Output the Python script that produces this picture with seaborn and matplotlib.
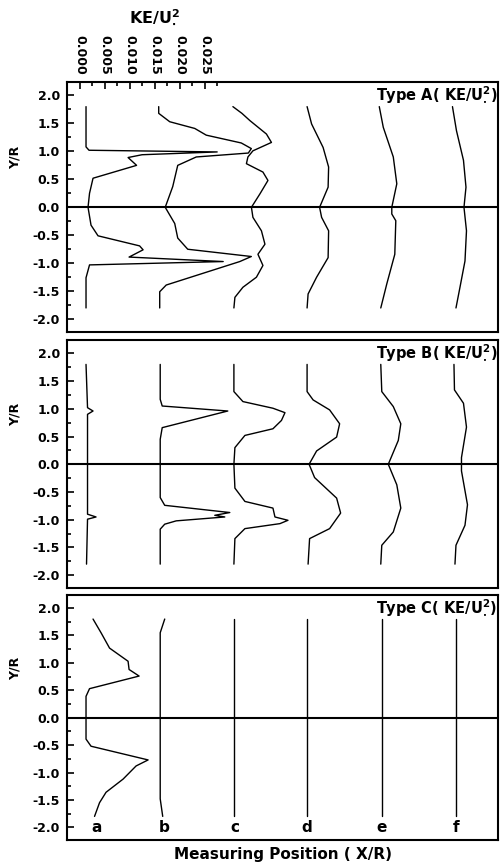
"""
Turbulent kinetic energy profiles KE/U*^2 at six measuring positions, three flow types
"""

import matplotlib
matplotlib.use('Agg')
import matplotlib.pyplot as plt
from matplotlib.ticker import MultipleLocator
import seaborn as sns
import numpy as np

positions = ['a', 'b', 'c', 'd', 'e', 'f']
ke_ticks = [0.000, 0.005, 0.010, 0.015, 0.020, 0.025]
ke_labels = ['0.000', '0.005', '0.010', '0.015', '0.020', '0.025']
yr_ticks = [2.0, 1.5, 1.0, 0.5, 0.0, -0.5, -1.0, -1.5, -2.0]

# Type A : (Y/R, KE/U*^2) per position
typeA = {
    'a': ([1.80, 1.08, 1.02, 0.99, 0.94, 0.89, 0.75, 0.52, 0.25, 0.00, -0.32, -0.51, -0.69, -0.76, -0.89, -0.97, -1.03, -1.26, -1.80],
          [0.0013, 0.0013, 0.0019, 0.0275, 0.0125, 0.0097, 0.0114, 0.0027, 0.0020, 0.0017, 0.0023, 0.0037, 0.0120, 0.0127, 0.0099, 0.0287, 0.0020, 0.0013, 0.0013]),
    'b': ([1.80, 1.68, 1.53, 1.41, 1.29, 1.15, 1.05, 0.97, 0.90, 0.75, 0.37, 0.00, -0.29, -0.55, -0.75, -0.88, -0.97, -1.39, -1.51, -1.80],
          [0.0011, 0.0011, 0.0033, 0.0083, 0.0106, 0.0176, 0.0196, 0.0190, 0.0086, 0.0049, 0.0039, 0.0024, 0.0043, 0.0049, 0.0069, 0.0196, 0.0173, 0.0026, 0.0013, 0.0013]),
    'c': ([1.80, 1.68, 1.55, 1.31, 1.16, 1.01, 0.90, 0.78, 0.63, 0.48, 0.24, 0.00, -0.18, -0.42, -0.66, -0.84, -1.04, -1.25, -1.43, -1.61, -1.80],
          [0.0012, 0.0030, 0.0046, 0.0079, 0.0089, 0.0052, 0.0042, 0.0039, 0.0072, 0.0082, 0.0066, 0.0049, 0.0052, 0.0069, 0.0076, 0.0062, 0.0072, 0.0059, 0.0032, 0.0016, 0.0014]),
    'd': ([1.80, 1.49, 1.07, 0.72, 0.36, 0.00, -0.18, -0.42, -0.90, -1.25, -1.55, -1.80],
          [0.0013, 0.0022, 0.0045, 0.0056, 0.0055, 0.0038, 0.0042, 0.0056, 0.0055, 0.0032, 0.0015, 0.0013]),
    'e': ([1.80, 1.43, 0.90, 0.42, 0.00, -0.12, -0.24, -0.84, -1.37, -1.80],
          [0.0010, 0.0018, 0.0038, 0.0045, 0.0035, 0.0035, 0.0043, 0.0041, 0.0025, 0.0013]),
    'f': ([1.80, 1.37, 0.84, 0.36, 0.00, -0.42, -0.96, -1.43, -1.80],
          [0.0009, 0.0017, 0.0031, 0.0036, 0.0032, 0.0037, 0.0034, 0.0024, 0.0016]),
}

# Type B
typeB = {
    'a': ([1.80, 1.02, 0.96, 0.90, 0.00, -0.90, -0.95, -0.99, -1.80],
          [0.0013, 0.0016, 0.0027, 0.0016, 0.0016, 0.0016, 0.0033, 0.0016, 0.0014]),
    'b': ([1.80, 1.17, 1.05, 0.96, 0.66, 0.45, 0.00, -0.60, -0.74, -0.87, -0.92, -0.95, -1.02, -1.08, -1.17, -1.80],
          [0.0014, 0.0014, 0.0018, 0.0149, 0.0018, 0.0014, 0.0014, 0.0014, 0.0023, 0.0153, 0.0123, 0.0143, 0.0046, 0.0023, 0.0014, 0.0014]),
    'c': ([1.80, 1.31, 1.13, 1.01, 0.93, 0.79, 0.64, 0.52, 0.30, 0.00, -0.43, -0.67, -0.79, -0.95, -1.01, -1.07, -1.16, -1.34, -1.80],
          [0.0014, 0.0014, 0.0032, 0.0092, 0.0116, 0.0109, 0.0092, 0.0036, 0.0016, 0.0014, 0.0016, 0.0036, 0.0092, 0.0096, 0.0122, 0.0106, 0.0036, 0.0016, 0.0014]),
    'd': ([1.80, 1.31, 1.16, 0.98, 0.73, 0.49, 0.24, 0.00, -0.24, -0.61, -0.88, -1.16, -1.34, -1.80],
          [0.0013, 0.0013, 0.0025, 0.0058, 0.0078, 0.0072, 0.0032, 0.0017, 0.0028, 0.0072, 0.0080, 0.0058, 0.0018, 0.0015]),
    'e': ([1.80, 1.31, 1.04, 0.73, 0.43, 0.00, -0.37, -0.79, -1.22, -1.46, -1.80],
          [0.0013, 0.0015, 0.0038, 0.0053, 0.0048, 0.0028, 0.0045, 0.0053, 0.0038, 0.0015, 0.0013]),
    'f': ([1.80, 1.34, 1.10, 0.67, 0.12, -0.12, -0.73, -1.10, -1.46, -1.80],
          [0.0012, 0.0013, 0.0031, 0.0037, 0.0027, 0.0027, 0.0039, 0.0034, 0.0016, 0.0014]),
}

# Type C
typeC = {
    'a': ([1.80, 1.55, 1.27, 1.03, 0.88, 0.76, 0.53, 0.39, 0.00, -0.39, -0.52, -0.77, -0.88, -1.12, -1.36, -1.55, -1.80],
          [0.0027, 0.0043, 0.0060, 0.0097, 0.0099, 0.0119, 0.0020, 0.0013, 0.0013, 0.0013, 0.0023, 0.0137, 0.0113, 0.0087, 0.0053, 0.0040, 0.0030]),
    'b': ([1.80, 1.55, 0.00, -1.48, -1.80],
          [0.0023, 0.0014, 0.0014, 0.0014, 0.0019]),
    'c': ([1.80, -1.80], [0.0014, 0.0014]),
    'd': ([1.80, -1.80], [0.0013, 0.0013]),
    'e': ([1.80, -1.80], [0.0015, 0.0015]),
    'f': ([1.80, -1.80], [0.0016, 0.0016]),
}

panels = [('Type A', typeA), ('Type B', typeB), ('Type C', typeC)]

spacing = 0.01472          # KE offset between measuring positions
letter_shift = [0.0034, 0.0021, 0.0016, 0.0012, 0.0015, 0.0016]

sns.set_style('ticks')
plt.rcParams['font.family'] = ['DejaVu Sans']
plt.rcParams['font.weight'] = 'bold'
plt.rcParams['axes.labelweight'] = 'bold'
plt.rcParams['mathtext.fontset'] = 'dejavusans'
plt.rcParams['mathtext.default'] = 'bf'
plt.rcParams['axes.unicode_minus'] = False
for key in ['text.color', 'axes.labelcolor', 'xtick.color', 'ytick.color', 'axes.edgecolor']:
    plt.rcParams[key] = 'black'

fig = plt.figure(figsize=(5.03, 8.68), dpi=100)
rects = [[0.1332, 0.6175, 0.8569, 0.2880],
         [0.1332, 0.3226, 0.8569, 0.2857],
         [0.1332, 0.0323, 0.8569, 0.2823]]

for k, (name, prof) in enumerate(panels):
    ax = fig.add_axes(rects[k])
    ax.axhline(0, color='k', lw=1.5)
    for i, p in enumerate(positions):
        yy, ke = prof[p]
        sns.lineplot(x=np.array(ke) + i * spacing, y=yy, sort=False, estimator=None,
                     color='k', lw=1, ax=ax)
    ax.set_xlim(-0.0025, 0.0836)
    ax.set_ylim(-2.23, 2.24)
    for s in ax.spines.values():
        s.set_visible(True)
        s.set_linewidth(1.5)
        s.set_color('k')

    ax.set_yticks(yr_ticks)
    ax.set_yticklabels([f'{v:.1f}' for v in yr_ticks])
    ax.yaxis.set_minor_locator(MultipleLocator(0.25))
    ax.tick_params(axis='y', which='both', direction='in', labelsize=9, width=1.2, pad=5)
    ax.tick_params(axis='y', which='major', length=5)
    ax.tick_params(axis='y', which='minor', length=3)
    ax.set_ylabel('Y/R', fontsize=9)
    ax.yaxis.set_label_coords(-0.105, 0.70)

    if k == 0:
        ax.xaxis.tick_top()
        ax.set_xticks(ke_ticks)
        ax.set_xticklabels(ke_labels, rotation=-90)
        ax.set_xticks(np.arange(0.0025, 0.0300, 0.005), minor=True)
        ax.tick_params(axis='x', which='both', direction='in', labelsize=9, width=1.2, pad=5)
        ax.tick_params(axis='x', which='major', length=5)
        ax.tick_params(axis='x', which='minor', length=3)
    else:
        ax.set_xticks([])
    ax.set_xlabel('')

    ax.text(0.999, 0.99, name + r'( KE/$U_{\bullet}^{2}$)', transform=ax.transAxes,
            ha='right', va='top', fontsize=10.5)

    if k == 2:
        for i, p in enumerate(positions):
            ax.text(i * spacing + letter_shift[i], -2.09, p, ha='center', va='baseline', fontsize=11)
        ax.set_xlabel('Measuring Position ( X/R)', fontsize=11)
        ax.xaxis.set_label_coords(0.5, -0.03)
        ax.xaxis.label.set_verticalalignment('top')

fig.text(155 / 503, 1 - 16 / 868, r'KE/$U_{\bullet}^{2}$', ha='center', va='center', fontsize=11.5)

plt.savefig('out.png', dpi=100)
